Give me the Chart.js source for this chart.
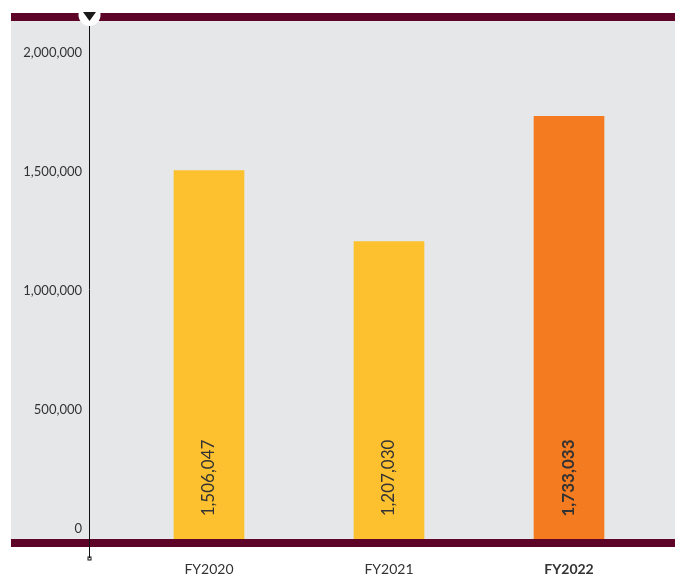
<!DOCTYPE html>
<html>
<head>
<meta charset="utf-8">
<script src="https://cdn.jsdelivr.net/npm/chart.js@4.4.1/dist/chart.umd.min.js"></script>
<style>
  html, body { margin: 0; padding: 0; background: #ffffff; }
  #wrap { width: 675px; height: 577px; position: relative; }
</style>
</head>
<body>
<div id="wrap"><canvas id="visitors"></canvas></div>
<script>
const years = ['FY2020', 'FY2021', 'FY2022'];
const visitors = [1506047, 1207030, 1733033];
const barColors = ['#FDC02F', '#FDC02F', '#F47B20'];
const yTicks = [0, 500000, 1000000, 1500000, 2000000];

const Y_MIN = -42000;
const Y_MAX = 2134000;
const MAROON = '#5E0428';
const FONT = 'Lato, "Open Sans", sans-serif';

// grey panel, maroon rules, the left axis with its marker, and the rotated value labels
const decor = {
  id: 'decor',
  beforeDraw(chart) {
    const { ctx, chartArea: a } = chart;
    ctx.save();
    ctx.fillStyle = '#E6E7E8';
    ctx.fillRect(11, a.top, chart.width - 11, a.bottom - a.top);
    ctx.restore();
  },
  afterDatasetsDraw(chart) {
    const { ctx, chartArea: a } = chart;
    const axisX = 89.5;
    ctx.save();
    // value labels, reading upwards
    const meta = chart.getDatasetMeta(0);
    meta.data.forEach((bar, i) => {
      ctx.save();
      ctx.translate(bar.x, a.bottom - 61);
      ctx.rotate(-Math.PI / 2);
      ctx.fillStyle = '#333333';
      ctx.font = (i === 2 ? 'bold ' : '') + '17px ' + FONT;
      ctx.textAlign = 'center';
      ctx.textBaseline = 'middle';
      ctx.fillText(visitors[i].toLocaleString('en-US'), 0, 0);
      ctx.restore();
    });
    // maroon rules
    ctx.fillStyle = MAROON;
    ctx.fillRect(11, a.top - 8, chart.width - 11, 8);
    ctx.fillRect(11, a.bottom, chart.width - 11, 8);
    // vertical axis line
    ctx.strokeStyle = '#111111';
    ctx.lineWidth = 1;
    ctx.beginPath();
    ctx.moveTo(axisX, a.top);
    ctx.lineTo(axisX, 558);
    ctx.stroke();
    ctx.strokeRect(axisX - 1.5, 557, 3, 3);
    // marker at top of axis
    ctx.fillStyle = '#ffffff';
    ctx.beginPath();
    ctx.arc(axisX, 15, 11, 0, Math.PI * 2);
    ctx.fill();
    ctx.fillStyle = '#1a1a1a';
    ctx.beginPath();
    ctx.moveTo(axisX - 6.5, 12);
    ctx.lineTo(axisX + 6.5, 12);
    ctx.lineTo(axisX, 21);
    ctx.closePath();
    ctx.fill();
    ctx.restore();
  }
};

const ctx = document.getElementById('visitors').getContext('2d');
const chart = new Chart(ctx, {
  type: 'bar',
  data: {
    labels: years,
    datasets: [{
      data: visitors,
      backgroundColor: barColors,
      borderWidth: 0,
      base: Y_MIN,
      barThickness: 70
    }]
  },
  options: {
    responsive: true,
    maintainAspectRatio: false,
    animation: false,
    layout: { padding: { top: 21, right: 16, bottom: 0, left: 0 } },
    plugins: {
      legend: { display: false },
      tooltip: { enabled: false }
    },
    scales: {
      x: {
        grid: { display: false, drawTicks: false },
        border: { display: false },
        ticks: {
          padding: 22,
          color: '#333333',
          font: ctx => ({
            family: FONT,
            size: 14,
            weight: ctx.index === 2 ? 'bold' : 'normal'
          })
        },
        afterFit(scale) {
          scale.height = 38;
          scale.paddingLeft = 0;
          scale.paddingRight = 0;
        }
      },
      y: {
        min: Y_MIN,
        max: Y_MAX,
        grid: { display: false, drawTicks: false },
        border: { display: false },
        afterBuildTicks(scale) {
          scale.ticks = yTicks.map(v => ({ value: v }));
        },
        ticks: {
          padding: 37,
          color: '#333333',
          font: { family: FONT, size: 13 },
          callback: v => v.toLocaleString('en-US')
        },
        afterFit(scale) {
          scale.width = 119;
          scale.paddingTop = 0;
          scale.paddingBottom = 0;
        }
      }
    }
  },
  plugins: [decor]
});
</script>
</body>
</html>
